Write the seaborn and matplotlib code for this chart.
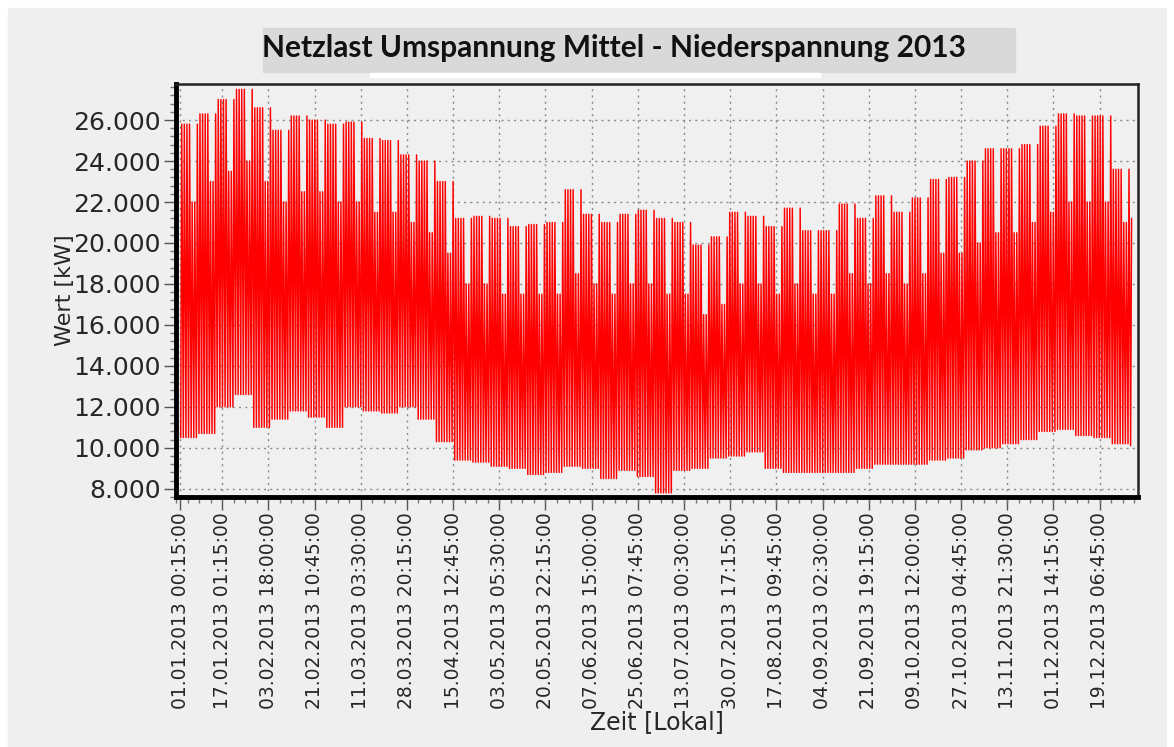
import numpy as np
import pandas as pd
import seaborn as sns
import matplotlib.pyplot as plt
from matplotlib.patches import Rectangle

# Weekly envelope of the 15-min load (kW), week 0 starts 01.01.2013
week_peak = [25800, 26300, 27000, 27500, 26600, 25500, 26200, 26000, 25800, 25900,
             25100, 25000, 24300, 24000, 23000, 21200, 21300, 21200, 20800, 20900,
             21000, 22600, 21400, 21000, 21400, 21600, 21200, 21000, 19900, 20300,
             21500, 21300, 20800, 21700, 20600, 20600, 21900, 21200, 22300, 21500,
             22200, 23100, 23200, 24000, 24600, 24600, 24800, 25700, 26300, 26200,
             26200, 23600, 21200]
weekend_peak = [22000, 23000, 23500, 24000, 23000, 22000, 22500, 22500, 22000, 22000,
                21500, 21500, 21000, 20500, 19500, 18000, 18000, 17500, 17500, 17500,
                17500, 18500, 18000, 17500, 18000, 18000, 17500, 17500, 16500, 17000,
                18000, 18000, 17500, 18000, 17500, 17500, 18500, 18000, 18500, 18000,
                18500, 19500, 19500, 20000, 20500, 20500, 21000, 21500, 22000, 22000,
                22000, 21000, 21000]
week_low = [10500, 10700, 12000, 12600, 11000, 11400, 11800, 11500, 11000, 12000,
            11800, 11700, 12000, 11400, 10300, 9400, 9300, 9100, 9000, 8700,
            8800, 9100, 9000, 8500, 8900, 8600, 7800, 8900, 9000, 9500,
            9600, 9800, 9000, 8800, 8800, 8800, 8800, 9000, 9200, 9200,
            9200, 9400, 9500, 9900, 10000, 10200, 10400, 10800, 10900, 10600,
            10500, 10200, 10100]

tick_labels = ['01.01.2013 00:15:00', '17.01.2013 01:15:00', '03.02.2013 18:00:00',
               '21.02.2013 10:45:00', '11.03.2013 03:30:00', '28.03.2013 20:15:00',
               '15.04.2013 12:45:00', '03.05.2013 05:30:00', '20.05.2013 22:15:00',
               '07.06.2013 15:00:00', '25.06.2013 07:45:00', '13.07.2013 00:30:00',
               '30.07.2013 17:15:00', '17.08.2013 09:45:00', '04.09.2013 02:30:00',
               '21.09.2013 19:15:00', '09.10.2013 12:00:00', '27.10.2013 04:45:00',
               '13.11.2013 21:30:00', '01.12.2013 14:15:00', '19.12.2013 06:45:00']
y_ticks = [8000, 10000, 12000, 14000, 16000, 18000, 20000, 22000, 24000, 26000]

title = 'Netzlast Umspannung Mittel - Niederspannung 2013'

# one night low and one daytime peak per day
rows = []
for d in pd.date_range('2013-01-01', '2013-12-31', freq='D'):
    w = (d.dayofyear - 1) // 7
    peak = weekend_peak[w] if d.dayofweek >= 5 else week_peak[w]
    rows.append((d + pd.Timedelta(hours=4), week_low[w]))
    rows.append((d + pd.Timedelta(hours=13), peak))
df = pd.DataFrame(rows, columns=['zeit', 'wert'])

sns.set_theme(style='ticks')
plt.rcParams['font.family'] = ['DejaVu Sans']

fig = plt.figure(figsize=(11.74, 7.47), dpi=100)
fig.patch.set_facecolor('white')
fig.add_artist(Rectangle((8 / 1174, 0), 1158 / 1174, 739 / 747, transform=fig.transFigure,
                         color='#efefef', zorder=-10))
# title box
fig.add_artist(Rectangle((263 / 1174, 1 - 72 / 747), 752 / 1174, 44 / 747,
                         transform=fig.transFigure, color='#d9d9d9', zorder=-5))
fig.add_artist(Rectangle((370 / 1174, 1 - 77 / 747), 450 / 1174, 4 / 747,
                         transform=fig.transFigure, color='white', zorder=-5))
fig.text(614 / 1174, 1 - 48 / 747, title, ha='center', va='center',
         fontsize=21.5, fontweight='bold', family=['Lato', 'DejaVu Sans'], color='#111111')

ax = fig.add_axes([176 / 1174, 1 - 497 / 747, 962 / 1174, 413 / 747])
ax.set_facecolor('#f0f0f0')

sns.lineplot(data=df, x='zeit', y='wert', color='#ff0000', lw=1.05,
             estimator=None, sort=False, ax=ax)

tick_pos = pd.to_datetime(tick_labels, format='%d.%m.%Y %H:%M:%S')
ax.set_xlim(pd.Timestamp('2013-01-01 00:15'), pd.Timestamp('2014-01-03'))
ax.set_ylim(7610, 27760)

ax.set_xticks(tick_pos)
ax.set_xticklabels(tick_labels, rotation=90, fontsize=13.5)
step = (tick_pos[2] - tick_pos[1]) / 4
minor_x = pd.date_range(tick_pos[1] - 4 * step, pd.Timestamp('2014-01-03'), freq=step)
ax.set_xticks(minor_x, minor=True)

ax.set_yticks(y_ticks)
ax.set_yticklabels([f'{v:,}'.replace(',', '.') for v in y_ticks], fontsize=18)
ax.set_yticks(np.arange(7600, 27800, 400), minor=True)

ax.tick_params(axis='both', which='major', length=9, width=1, color='#555555', pad=2)
ax.tick_params(axis='both', which='minor', length=4, width=1, color='#777777')

ax.grid(True, which='major', color='#8a8a8a', ls=(0, (1.5, 3)), lw=1)
ax.set_axisbelow(True)

for side in ['left', 'bottom']:
    ax.spines[side].set_linewidth(3.5)
    ax.spines[side].set_color('black')
for side in ['top', 'right']:
    ax.spines[side].set_linewidth(1.8)
    ax.spines[side].set_color('#222222')

ax.set_xlabel('Zeit [Lokal]', fontsize=17)
ax.xaxis.set_label_coords(0.5, -0.545)
ax.xaxis.label.set_va('center')
ax.set_ylabel('Wert [kW]', fontsize=16)
ax.yaxis.set_label_coords(-0.115, 0.5)
ax.yaxis.label.set_va('center')

fig.savefig('out.png', dpi=100, facecolor=fig.get_facecolor())
